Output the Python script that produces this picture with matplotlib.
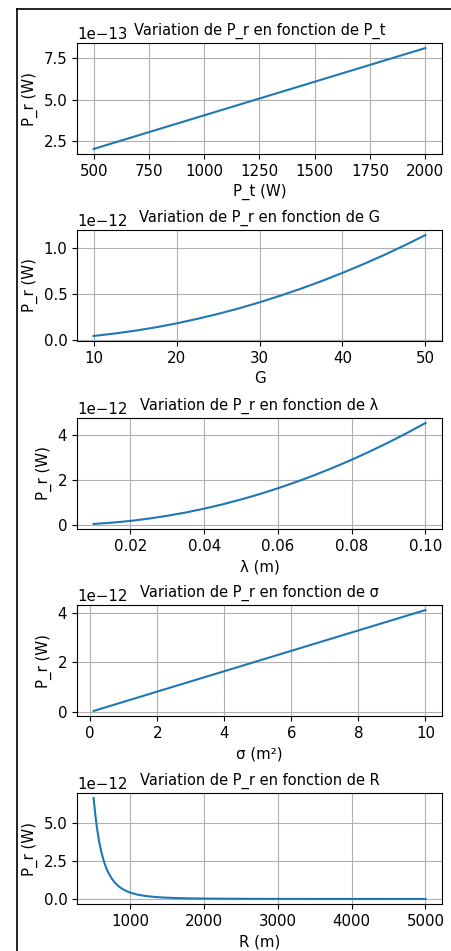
import matplotlib
matplotlib.use('Agg')
from matplotlib import pyplot as plt
from matplotlib.lines import Line2D

# valeurs
pt_values = [500, 2000]
pr_pt = [2.03e-13, 8.13e-13]

g_values = [10, 12.5, 15, 17.5, 20, 22.5, 25, 27.5, 30, 32.5, 35, 37.5,
            40, 42.5, 45, 47.5, 50]
pr_g = [0.046e-12, 0.072e-12, 0.103e-12, 0.140e-12, 0.183e-12, 0.232e-12,
        0.286e-12, 0.346e-12, 0.412e-12, 0.484e-12, 0.561e-12, 0.644e-12,
        0.733e-12, 0.827e-12, 0.927e-12, 1.033e-12, 1.145e-12]

lambda_values = [0.01, 0.015, 0.02, 0.025, 0.03, 0.035, 0.04, 0.045, 0.05,
                 0.055, 0.06, 0.065, 0.07, 0.075, 0.08, 0.085, 0.09, 0.095,
                 0.10]
pr_lambda = [0.045e-12, 0.102e-12, 0.181e-12, 0.283e-12, 0.408e-12,
             0.555e-12, 0.725e-12, 0.917e-12, 1.133e-12, 1.370e-12,
             1.631e-12, 1.914e-12, 2.220e-12, 2.548e-12, 2.899e-12,
             3.273e-12, 3.669e-12, 4.088e-12, 4.53e-12]

sigma_values = [0.1, 10]
pr_sigma = [0.041e-12, 4.1e-12]

r_values = [500, 525, 550, 575, 600, 625, 650, 675, 700, 750, 800, 850,
            900, 950, 1000, 1100, 1200, 1300, 1400, 1500, 1600, 1800,
            2000, 2500, 3000, 3500, 4000, 4500, 5000]
pr_r = [6.62e-12, 5.45e-12, 4.52e-12, 3.78e-12, 3.19e-12, 2.71e-12,
        2.32e-12, 1.99e-12, 1.72e-12, 1.31e-12, 1.01e-12, 0.79e-12,
        0.63e-12, 0.51e-12, 0.41e-12, 0.28e-12, 0.20e-12, 0.145e-12,
        0.108e-12, 0.082e-12, 0.063e-12, 0.039e-12, 0.026e-12, 0.011e-12,
        0.005e-12, 0.0028e-12, 0.0016e-12, 0.001e-12, 0.0007e-12]

panels = [
    (pt_values, pr_pt, 'P_t (W)', 'Variation de P_r en fonction de P_t'),
    (g_values, pr_g, 'G', 'Variation de P_r en fonction de G'),
    (lambda_values, pr_lambda, 'λ (m)', 'Variation de P_r en fonction de λ'),
    (sigma_values, pr_sigma, 'σ (m²)', 'Variation de P_r en fonction de σ'),
    (r_values, pr_r, 'R (m)', 'Variation de P_r en fonction de R'),
]

plt.rcParams['font.size'] = 10.8

W, H = 452, 951
tops = [43, 230, 418, 605, 793]
fig = plt.figure(figsize=(W / 100, H / 100), dpi=100)

for (x, y, xlabel, title), top in zip(panels, tops):
    ax = fig.add_axes([77 / W, 1 - (top + 111) / H, 365 / W, 111 / H])
    ax.plot(x, y)
    ax.set_xlabel(xlabel)
    ax.set_ylabel('P_r (W)')
    ax.set_title(title, fontsize=10.5)
    ax.grid(True)

# cadre de la capture
fig.add_artist(Line2D([17 / W, 17 / W], [0, 1 - 9 / H], color='black', lw=1.2))
fig.add_artist(Line2D([17 / W, 1], [1 - 9 / H, 1 - 9 / H], color='black', lw=1.2))

plt.savefig('out.png', dpi=100)
